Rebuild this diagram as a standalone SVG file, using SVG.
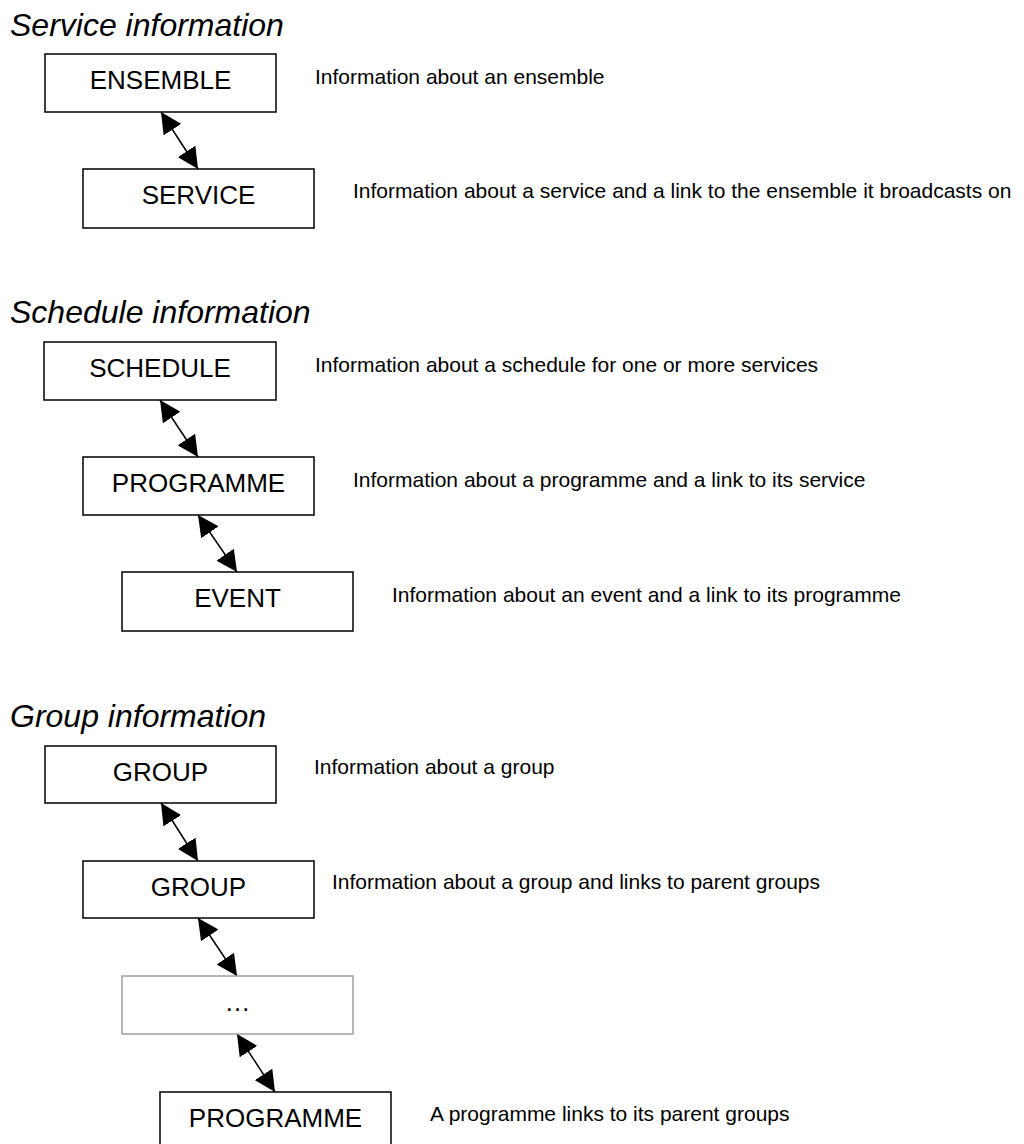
<svg xmlns="http://www.w3.org/2000/svg" width="1024" height="1144" viewBox="0 0 1024 1144">
<style>
  .title { font-family: "Liberation Sans", Arial, sans-serif; font-style: italic; font-size: 32px; fill: #000; }
  .box { fill: #fff; stroke: #000; stroke-width: 1.5; }
  .gbox { fill: #fff; stroke: #a0a0a0; stroke-width: 1.5; }
  .lbl { font-family: "Liberation Sans", Arial, sans-serif; font-size: 26px; fill: #000; text-anchor: middle; }
  .desc { font-family: "Liberation Sans", Arial, sans-serif; font-size: 21px; fill: #000; }
  .conn { stroke: #000; stroke-width: 1.5; fill: none; marker-start: url(#ah); marker-end: url(#ah); }
</style>
<defs>
  <marker id="ah" markerUnits="userSpaceOnUse" markerWidth="21" markerHeight="21" refX="21" refY="10.5" orient="auto-start-reverse" viewBox="0 0 21 21">
    <path d="M0,0 L21,10.5 L0,21 z" fill="#000"/>
  </marker>
</defs>
<rect width="1024" height="1144" fill="#fff"/>

<text class="title" x="10" y="36">Service information</text>
<text class="title" x="10" y="323">Schedule information</text>
<text class="title" x="10" y="727">Group information</text>

<g id="connectors">
  <line class="conn" x1="161" y1="112" x2="198" y2="169"/>
  <line class="conn" x1="160" y1="400" x2="198" y2="457"/>
  <line class="conn" x1="198" y1="515" x2="237" y2="572"/>
  <line class="conn" x1="161" y1="803" x2="198" y2="861"/>
  <line class="conn" x1="198" y1="918" x2="237" y2="976"/>
  <line class="conn" x1="237" y1="1034" x2="275" y2="1092"/>
</g>

<g id="ensemble">
  <rect class="box" x="45" y="54" width="231" height="58"/>
  <text class="lbl" x="160.5" y="89">ENSEMBLE</text>
  <text class="desc" x="315" y="84">Information about an ensemble</text>
</g>
<g id="service">
  <rect class="box" x="83" y="169" width="231" height="59"/>
  <text class="lbl" x="198.5" y="204">SERVICE</text>
  <text class="desc" x="353" y="198">Information about a service and a link to the ensemble it broadcasts on</text>
</g>

<g id="schedule">
  <rect class="box" x="44" y="342" width="232" height="58"/>
  <text class="lbl" x="160" y="377">SCHEDULE</text>
  <text class="desc" x="315" y="372">Information about a schedule for one or more services</text>
</g>
<g id="programme1">
  <rect class="box" x="83" y="457" width="231" height="58"/>
  <text class="lbl" x="198.5" y="492">PROGRAMME</text>
  <text class="desc" x="353" y="487">Information about a programme and a link to its service</text>
</g>
<g id="event">
  <rect class="box" x="122" y="572" width="231" height="59"/>
  <text class="lbl" x="237.5" y="607">EVENT</text>
  <text class="desc" x="392" y="602">Information about an event and a link to its programme</text>
</g>

<g id="group1">
  <rect class="box" x="45" y="746" width="231" height="57"/>
  <text class="lbl" x="160.5" y="781">GROUP</text>
  <text class="desc" x="314" y="774">Information about a group</text>
</g>
<g id="group2">
  <rect class="box" x="83" y="861" width="231" height="57"/>
  <text class="lbl" x="198.5" y="896">GROUP</text>
  <text class="desc" x="332" y="889">Information about a group and links to parent groups</text>
</g>
<g id="ellipsis">
  <rect class="gbox" x="122" y="976" width="231" height="58"/>
  <text class="lbl" x="237.5" y="1011">…</text>
</g>
<g id="programme2">
  <rect class="box" x="160" y="1092" width="231" height="58"/>
  <text class="lbl" x="275.5" y="1127">PROGRAMME</text>
  <text class="desc" x="430" y="1121">A programme links to its parent groups</text>
</g>
</svg>
